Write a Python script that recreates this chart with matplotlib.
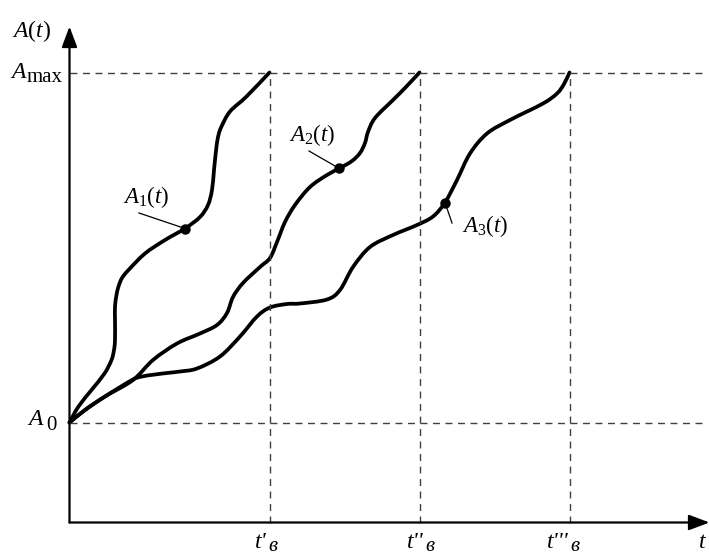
import matplotlib
matplotlib.use("Agg")
import matplotlib.pyplot as plt
import numpy as np
from matplotlib.path import Path
from matplotlib.patches import PathPatch

plt.rcParams.update({
    "mathtext.fontset": "custom",
    "mathtext.rm": "Liberation Serif",
    "mathtext.it": "Liberation Serif:italic",
    "mathtext.bf": "Liberation Serif:bold",
    "font.family": ["Liberation Serif", "DejaVu Serif"],
})

# ---- data (t, A) ----
A0 = 100
Amax = 450
t_end = [200, 350, 500]
t_end_primes = ["t'", "t''", "t'''"]
t_end_sub = "в"

A1_t = [0, 9, 22, 35, 42, 44.5, 45.5, 45.5, 45.5, 47, 49, 52.5, 59, 75.5, 95.5,
        115.5, 130.5, 138.5, 142.5, 144.5, 147, 149, 152, 160.5, 177, 200]
A1_A = [100, 116, 132.5, 149, 162.5, 172.5, 182.5, 202.5, 216, 227.5, 236, 244.5,
        252.5, 269, 282.5, 294, 305.5, 317.5, 332.5, 352.5, 376, 387.5, 396, 411, 426, 450]

A2_t = [0, 15.5, 35.5, 63.5, 83.5, 107.5, 130.5, 147.5, 157.5, 163.5, 173.5, 190.5,
        200.5, 207.5, 215.5, 225.5, 240.5, 257.5, 270.5, 282.5, 290.5, 295.5, 298.5,
        305.5, 323.5, 335.5, 350]
A2_A = [100, 112.5, 126, 142.5, 162.5, 179, 189, 197.5, 209.5, 225.5, 239.5, 255.5,
        264.5, 280.5, 300.5, 317.5, 335.5, 347.5, 354.5, 361.5, 369.5, 379.5, 390.5,
        404.5, 422.5, 434.5, 450]

A3_t = [0, 15.5, 35.5, 62.5, 72.5, 85.5, 97.5, 110.5, 127.5, 150.5, 170.5, 187.5,
        200.5, 217.5, 230.5, 257.5, 270.5, 283.5, 300.5, 323.5, 347.5, 363.5, 375.5,
        387.5, 400.5, 417.5, 440.5, 473.5, 487.5, 494.5, 500]
A3_A = [100, 112.5, 126, 142.5, 146, 148, 149.5, 151, 154, 166, 186, 206, 215, 218.5,
        219, 223, 232.5, 255.5, 275.5, 287.5, 297.5, 306, 320, 342.5, 369, 389, 402.5,
        419, 429, 438.5, 450]

dot_t = [115.5, 269, 375.5]
dot_A = [294, 354.5, 320]
curve_labels = [r"$A_1(t)$", r"$A_2(t)$", r"$A_3(t)$"]
label_t = [77, 242.5, 415.5]
label_A = [325.5, 387.5, 296]
leader_t = [69.5, 239.5, 382.5]
leader_A = [309.5, 371.5, 299.5]


def smooth_path(tt, aa):
    """Draw a smooth (Catmull-Rom as cubic Bezier) path through the read points."""
    p = np.column_stack([tt, aa]).astype(float)
    n = len(p)
    verts = [p[0]]
    codes = [Path.MOVETO]
    for i in range(n - 1):
        p0 = p[i - 1] if i > 0 else p[i]
        p1 = p[i]
        p2 = p[i + 1]
        p3 = p[i + 2] if i + 2 < n else p[i + 1]
        c1 = p1 + (p2 - p0) / 6.0
        c2 = p2 - (p3 - p1) / 6.0
        verts += [c1, c2, p2]
        codes += [Path.CURVE4] * 3
    return Path(np.array(verts), codes)


# ---- figure ----
fig = plt.figure(figsize=(7.09, 5.59), dpi=100)
ax = fig.add_axes([0, 0, 1, 1])
ax.set_xlim(-69.5, 639.5)
ax.set_ylim(-36.5, 522.5)
ax.axis("off")

dash = dict(color="#404040", lw=1.0, dashes=(5, 4))
ax.plot([0, 632], [Amax, Amax], **dash)
ax.plot([0, 632], [A0, A0], **dash)
for te in t_end:
    ax.plot([te, te], [0, Amax], **dash)

arrow_style = dict(arrowstyle="-|>,head_length=1.25,head_width=0.47",
                   mutation_scale=10, lw=1.6, color="black",
                   shrinkA=0, shrinkB=0)
ax.annotate("", xy=(640, 0), xytext=(0, 0), arrowprops=arrow_style)
ax.annotate("", xy=(0, 496), xytext=(0, 0), arrowprops=arrow_style)

for tt, aa in [(A1_t, A1_A), (A2_t, A2_A), (A3_t, A3_A)]:
    ax.add_patch(PathPatch(smooth_path(tt, aa), fill=False, edgecolor="black",
                           lw=2.7, capstyle="round", joinstyle="round"))

ax.plot(dot_t, dot_A, "o", color="black", ms=6.5)

for i in range(3):
    ax.plot([leader_t[i], dot_t[i]], [leader_A[i], dot_A[i]], color="black", lw=0.9)
    ax.text(label_t[i], label_A[i], curve_labels[i], fontsize=16.5,
            ha="center", va="center")

# axis labels
ax.text(-58, 491.5, r"$A(t)$", fontsize=17, ha="left", va="center")
ax.text(-58, 444.5, "A", fontsize=17, style="italic", ha="left", va="baseline")
ax.text(-43, 440, "max", fontsize=15, ha="left", va="baseline")
ax.text(-41.5, 97.5, "A", fontsize=17, style="italic", ha="left", va="baseline")
ax.text(-23, 93, "0", fontsize=15, ha="left", va="baseline")

for te, lab, off in zip(t_end, t_end_primes, [-1.5, 5.5, 0.5]):
    ax.text(te + off - 1, -26, lab, fontsize=17, style="italic",
            ha="right", va="baseline")
    ax.text(te + off, -28.5, t_end_sub, fontsize=15, style="italic",
            ha="left", va="baseline")
ax.text(633, -26, "t", fontsize=17, style="italic", ha="center", va="baseline")

fig.savefig("out.png", dpi=100)
